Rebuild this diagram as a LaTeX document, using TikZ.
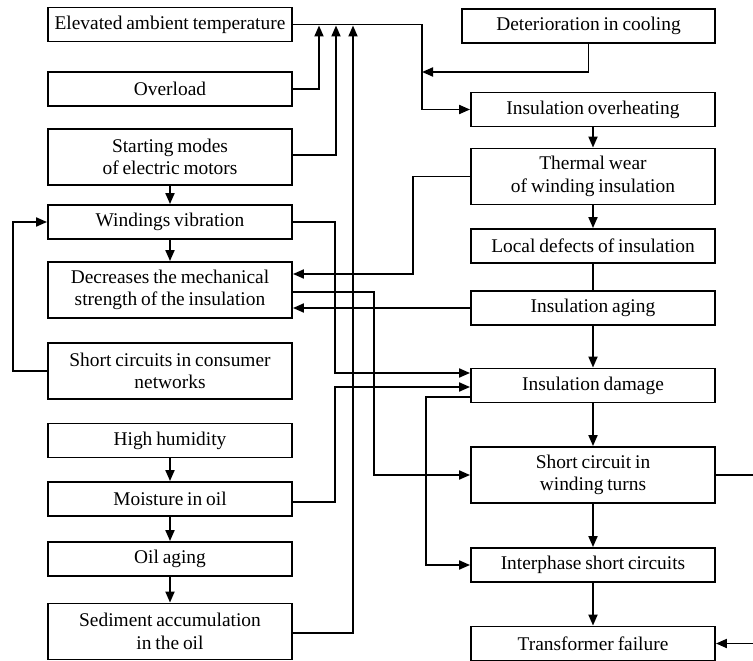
\documentclass[tikz,border=0pt]{standalone}
\usepackage{fontspec}
\setmainfont{Liberation Serif}
\usetikzlibrary{arrows.meta,calc}
\newcommand{\boxfont}{\fontsize{19.4}{22.5}\selectfont\spaceskip=0.2em\relax}
\begin{document}
\begin{tikzpicture}[x=1pt,y=-1pt,
  box/.style={draw, line width=1.9pt, rectangle, inner sep=0pt, align=center,
    minimum width=244pt, minimum height=34pt, font=\boxfont},
  tall/.style={minimum height=56pt},
  conn/.style={line width=1.9pt},
  arr/.style={conn, -{Triangle[length=11pt,width=9pt]}}]
\useasboundingbox (0,0) rectangle (753,661);
\fill[white] (0,0) rectangle (753,661);
\clip (0,0) rectangle (753,661);
% left column
\node[box] (L1) at (170,24.5) {Elevated ambient temperature};
\node[box] (L2) at (170,89) {Overload};
\node[box,tall] (L3) at (170,157) {Starting modes\\of electric motors};
\node[box] (L4) at (170,222) {Windings vibration};
\node[box,tall] (L5) at (170,290) {Decreases the mechanical\\strength of the insulation};
\node[box,tall] (L6) at (170,371) {Short circuits in consumer\\networks};
\node[box] (L7) at (170,440.5) {High humidity};
\node[box] (L8) at (170,499) {Moisture in oil};
\node[box] (L9) at (170,559) {Oil aging};
\node[box,tall] (L10) at (170,631.5) {Sediment accumulation\\in the oil};
% right column
\node[box,minimum width=253pt] (R0) at (588.5,26) {Deterioration in cooling};
\node[box] (R1) at (593,109.5) {Insulation overheating};
\node[box,tall] (R2) at (593,176.5) {Thermal wear\\of winding insulation};
\node[box] (R3) at (593,246) {Local defects of insulation};
\node[box] (R4) at (593,308) {Insulation aging};
\node[box] (R5) at (593,385.5) {Insulation damage};
\node[box,tall] (R6) at (593,475) {Short circuit in\\winding turns};
\node[box] (R7) at (593,565) {Interphase short circuits};
\node[box] (R8) at (593,643.5) {Transformer failure};
% coordinates
\coordinate (bus) at (422,60);
\coordinate (j1) at (422,72);
\coordinate (t1) at (319,25.5);
\coordinate (t2) at (336,25.5);
\coordinate (t3) at (353,25.5);
\coordinate (w1) at (335,373);
\coordinate (m1) at (335,387);
\coordinate (th) at (413,274);
\coordinate (d1) at (374,292);
\coordinate (g1) at (426,397);
\coordinate (n1) at (13,300);
\coordinate (f1) at (765,560);
% connectors
\draw[arr] (L1.east) -| (bus) |- (R1.west);
\draw[arr] (R0.south) |- (j1);
\draw[arr] (L2.east) -| (t1);
\draw[arr] ($(L3.east)+(0,-2)$) -| (t2);
\draw[arr] ($(L10.east)+(0,1.5)$) -| (t3);
\draw[arr] (L4.east) -| (w1) -- (w1 -| R5.west);
\draw[arr] ($(L8.east)+(0,3)$) -| (m1) -- (m1 -| R5.west);
\draw[arr] (R2.west) -| (th) -- (th -| L5.east);
\draw[arr] (R4.west) -- (R4.west -| L5.east);
\draw[arr] (d1 -| L5.east) -- (d1) |- (R6.west);
\draw[arr] (g1 -| R5.west) -- (g1) |- (R7.west);
\draw[arr] (L6.west) -| (n1) |- (L4.west);
\draw[arr] (R6.east) -| (f1) |- (R8.east);
% vertical chains
\draw[arr] (L3.south) -- (L4.north);
\draw[arr] (L4.south) -- (L5.north);
\draw[arr] (L7.south) -- (L8.north);
\draw[arr] (L8.south) -- (L9.north);
\draw[arr] (L9.south) -- (L10.north);
\draw[arr] (R1.south) -- (R2.north);
\draw[arr] (R2.south) -- (R3.north);
\draw[conn] (R3.south) -- (R4.north);
\draw[arr] (R4.south) -- (R5.north);
\draw[arr] (R5.south) -- (R6.north);
\draw[arr] (R6.south) -- (R7.north);
\draw[arr] (R7.south) -- (R8.north);
\end{tikzpicture}
\end{document}
